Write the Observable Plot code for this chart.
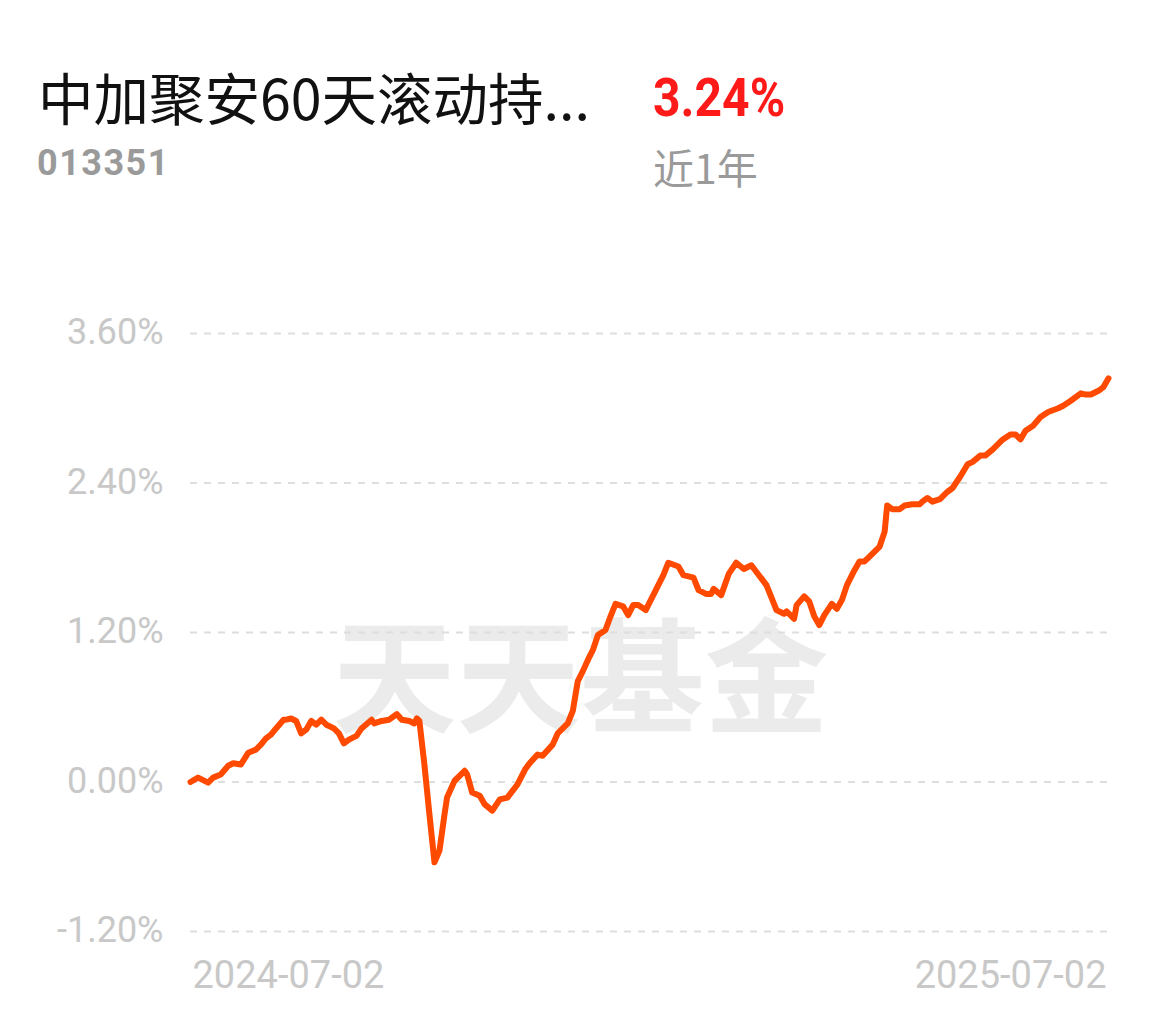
<!DOCTYPE html>
<html>
<head>
<meta charset="utf-8">
<script src="https://cdn.jsdelivr.net/npm/d3@7"></script>
<script src="https://cdn.jsdelivr.net/npm/@observablehq/plot@0.6"></script>
<style>
  html, body { margin: 0; padding: 0; background: #fff; }
  body { width: 1159px; height: 1022px; position: relative; overflow: hidden; font-family: Roboto, "Noto Sans CJK SC", sans-serif; }
  .abs { position: absolute; white-space: nowrap; }
  #title { left: 38px; top: 63px; font-family: "Noto Sans CJK SC", sans-serif; font-size: 55.5px; line-height: 66px; color: #111; }
  #code { left: 37px; top: 140px; font-family: Roboto, sans-serif; font-weight: 700; font-size: 36px; line-height: 46px; color: #9a9a9a; letter-spacing: 1.5px; }
  #ret { left: 653px; top: 66px; font-family: Roboto, sans-serif; font-weight: 700; font-size: 54px; line-height: 64px; color: #ff1a1a; transform: scaleX(0.89); transform-origin: left center; }
  #period { left: 653px; top: 140px; font-family: "Noto Sans CJK SC", sans-serif; font-size: 41px; line-height: 52px; color: #9a9a9a; }
  #chart { left: 0; top: 300px; }
</style>
</head>
<body>
<div id="title" class="abs">中加聚安60天滚动持...</div>
<div id="code" class="abs">013351</div>
<div id="ret" class="abs">3.24%</div>
<div id="period" class="abs">近1年</div>
<div id="chart" class="abs"></div>
<script>
// day offsets from 2024-07-02
const days = [0,3,7,9,12,15,17,20,23,26,28,30,32,34,37,38,40,42,44,46,48,50,52,54,57,59,61,63,66,68,72,73,76,79,82,84,87,89,90,91,93,95,97,99,101,102,105,109,110,112,115,117,120,123,126,130,133,135,138,140,144,146,150,152,154,156,158,160,162,165,167,169,172,174,176,178,181,184,188,190,194,196,200,202,205,207,208,211,214,217,220,223,226,229,233,236,237,240,241,244,246,248,250,252,255,257,259,261,264,266,268,271,274,276,277,279,282,284,287,290,291,293,295,298,301,303,306,309,311,314,316,319,323,326,328,330,332,335,338,341,345,347,350,354,356,358,361,363,365];
// cumulative return (%)
const returns = [0.00,0.035,-0.005,0.035,0.06,0.13,0.15,0.14,0.235,0.26,0.30,0.35,0.38,0.43,0.50,0.50,0.51,0.49,0.39,0.42,0.49,0.46,0.50,0.46,0.43,0.39,0.31,0.34,0.37,0.43,0.50,0.47,0.49,0.50,0.545,0.50,0.49,0.47,0.51,0.49,0.14,-0.26,-0.645,-0.55,-0.26,-0.125,0.01,0.09,0.06,-0.085,-0.11,-0.18,-0.23,-0.14,-0.125,-0.02,0.10,0.155,0.22,0.21,0.30,0.39,0.47,0.57,0.81,0.89,0.98,1.06,1.18,1.22,1.33,1.43,1.41,1.34,1.42,1.42,1.38,1.50,1.66,1.76,1.73,1.66,1.64,1.54,1.51,1.51,1.55,1.50,1.67,1.76,1.71,1.74,1.66,1.58,1.38,1.35,1.37,1.31,1.42,1.49,1.45,1.33,1.26,1.34,1.43,1.39,1.46,1.58,1.70,1.77,1.77,1.83,1.89,2.01,2.22,2.19,2.19,2.22,2.23,2.23,2.25,2.28,2.25,2.27,2.33,2.36,2.45,2.55,2.57,2.62,2.62,2.67,2.75,2.79,2.79,2.75,2.82,2.86,2.93,2.97,3.00,3.02,3.06,3.12,3.11,3.11,3.14,3.17,3.24];
const yTicks = [-1.2, 0, 1.2, 2.4, 3.6];
const xTickLabels = ["2024-07-02", "2025-07-02"];
const watermark = ["天天基金"];

const start = new Date(Date.UTC(2024, 6, 2));
const end = new Date(Date.UTC(2025, 6, 2));
const data = days.map((d, i) => ({date: d3.utcDay.offset(start, d), value: returns[i]}));

const chart = Plot.plot({
  width: 1159,
  height: 700,
  marginTop: 33,
  marginBottom: 69,
  marginLeft: 190,
  marginRight: 51,
  style: {background: "transparent", overflow: "visible"},
  x: {type: "utc", domain: [start, end], axis: null},
  y: {domain: [-1.2, 3.6], axis: null},
  marks: [
    Plot.text(watermark, {text: d => d, frameAnchor: "middle", dx: -69, dy: 51, fontSize: 124, fontWeight: 700, fill: "#ebebeb", fontFamily: "Noto Sans CJK SC", letterSpacing: -2}),
    Plot.ruleY(yTicks, {y: d => d, stroke: "#dedede", strokeWidth: 2, strokeDasharray: "7,7"}),
    Plot.axisY({ticks: yTicks, tickSize: 0, tickPadding: 27, tickFormat: d => d.toFixed(2) + "%", fontSize: 36, fill: "#c8c8c8", fontFamily: "Roboto", label: null, dy: -1}),
    Plot.text([start], {x: d => d, text: [xTickLabels[0]], frameAnchor: "bottom", textAnchor: "start", dx: 2, dy: 44, lineAnchor: "middle", fontSize: 38, fill: "#c8c8c8", fontFamily: "Roboto"}),
    Plot.text([end], {x: d => d, text: [xTickLabels[1]], frameAnchor: "bottom", textAnchor: "end", dx: -2, dy: 44, lineAnchor: "middle", fontSize: 38, fill: "#c8c8c8", fontFamily: "Roboto"}),
    Plot.line(data, {x: "date", y: "value", stroke: "#ff4a00", strokeWidth: 6, strokeLinejoin: "round", strokeLinecap: "round"})
  ]
});
document.getElementById("chart").appendChild(chart);
</script>
</body>
</html>
